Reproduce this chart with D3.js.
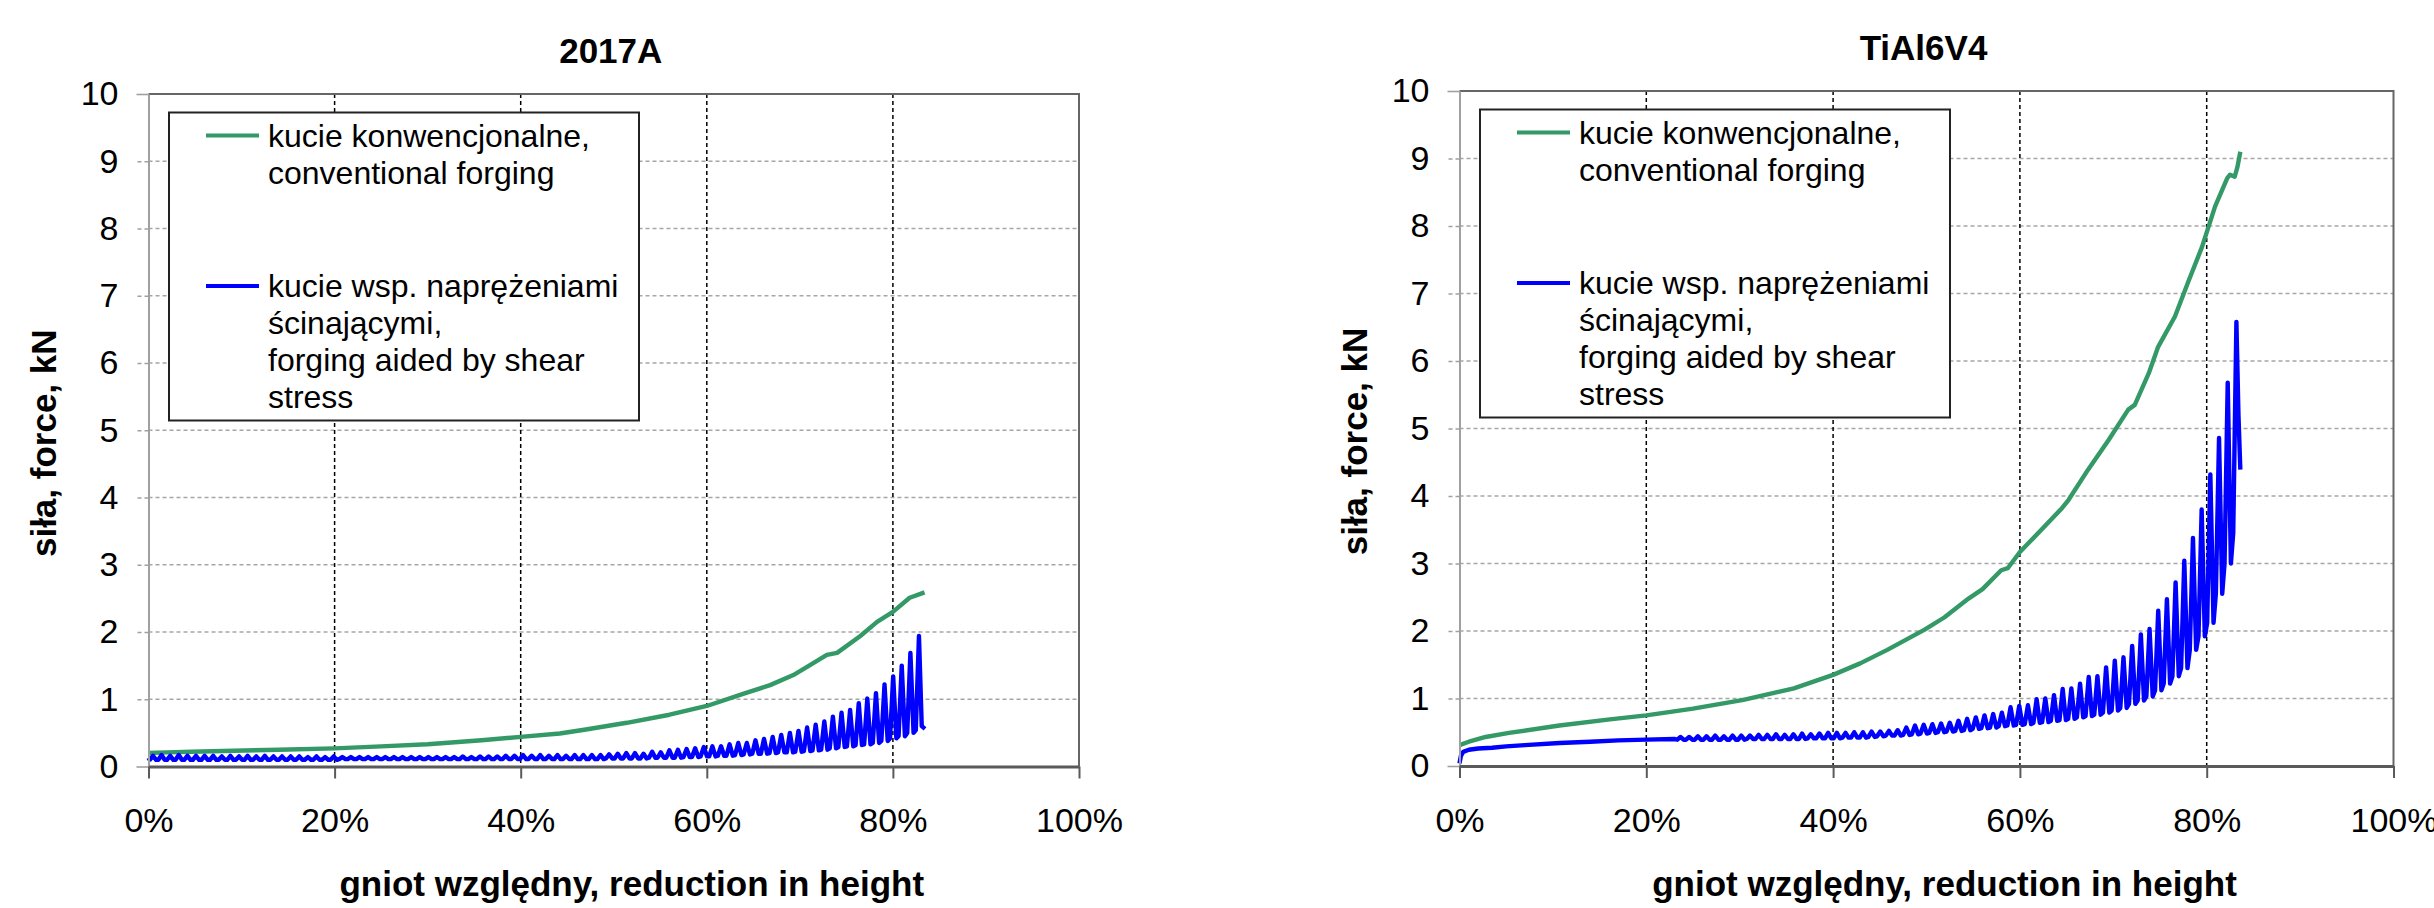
<!DOCTYPE html>
<html lang="pl">
<head>
<meta charset="UTF-8">
<title>Siła kucia</title>
<script src="https://cdn.jsdelivr.net/npm/d3@7"></script>
<style>
    body { margin: 0; background: #fff; }
    svg { display: block; font-family: "Liberation Sans", Arial, sans-serif; }
    .tick text { font-size: 34px; fill: #000; }
    .legend_text { font-size: 32px; }
    .title { font-size: 35px; font-weight: bold; }
</style>
</head>
<body>
<svg id="chart" width="2434" height="908"></svg>
<script>
    // axis ticks and texts
    const xTicks = [0, 20, 40, 60, 80, 100];
    const yTicks = [0, 1, 2, 3, 4, 5, 6, 7, 8, 9, 10];
    const titles = ["2017A", "TiAl6V4"];
    const xLabel = "gniot względny, reduction in height";
    const yLabel = "siła, force, kN";
    const legendConv = ["kucie konwencjonalne,", "conventional forging"];
    const legendShear = ["kucie wsp. naprężeniami", "ścinającymi,", "forging aided by shear", "stress"];

    // 2017A - conventional forging [reduction %, kN]
    const convA = [[0, 0.20], [2, 0.21], [4.6, 0.22], [8, 0.23], [14, 0.25], [20, 0.27], [25, 0.30],
        [30, 0.33], [35.8, 0.39], [40, 0.44], [44.2, 0.49], [47, 0.55], [51.4, 0.65], [56, 0.77],
        [60, 0.90], [63.9, 1.08], [66.8, 1.21], [69.3, 1.36], [71, 1.50], [72.9, 1.66], [74, 1.69],
        [76.5, 1.94], [78.3, 2.15], [80, 2.30], [81.8, 2.51], [83.4, 2.59]];

    // 2017A - shear aided forging, one row per load cycle [reduction %, low kN, peak kN]
    const shearStartA = [[0, 0.13]];
    const shearCyclesA = [
        [0.48, 0.10, 0.16], [1.40, 0.10, 0.17], [2.33, 0.10, 0.16], [3.25, 0.10, 0.17], [4.18, 0.10, 0.16],
        [5.10, 0.10, 0.16], [6.03, 0.10, 0.16], [6.95, 0.10, 0.16], [7.88, 0.10, 0.15], [8.80, 0.10, 0.16],
        [9.73, 0.10, 0.15], [10.65, 0.10, 0.16], [11.58, 0.10, 0.15], [12.50, 0.10, 0.16], [13.43, 0.10, 0.15],
        [14.35, 0.10, 0.15], [15.28, 0.10, 0.15], [16.20, 0.10, 0.15], [17.13, 0.10, 0.14], [18.05, 0.10, 0.15],
        [18.98, 0.10, 0.14], [19.90, 0.10, 0.15], [20.83, 0.11, 0.14], [21.75, 0.11, 0.14], [22.68, 0.11, 0.14],
        [23.60, 0.11, 0.14], [24.53, 0.11, 0.14], [25.45, 0.11, 0.14], [26.38, 0.11, 0.14], [27.30, 0.11, 0.14],
        [28.23, 0.11, 0.14], [29.15, 0.11, 0.14], [30.08, 0.11, 0.14], [31.00, 0.11, 0.14], [31.93, 0.11, 0.14],
        [32.85, 0.11, 0.14], [33.78, 0.11, 0.15], [34.70, 0.11, 0.14], [35.63, 0.11, 0.15], [36.55, 0.11, 0.15],
        [37.48, 0.11, 0.15], [38.40, 0.11, 0.16], [39.33, 0.11, 0.16], [40.25, 0.11, 0.17], [41.18, 0.11, 0.16],
        [42.10, 0.11, 0.17], [43.03, 0.11, 0.16], [43.95, 0.11, 0.17], [44.88, 0.11, 0.16], [45.80, 0.11, 0.17],
        [46.73, 0.11, 0.17], [47.65, 0.11, 0.17], [48.58, 0.11, 0.17], [49.50, 0.12, 0.18], [50.43, 0.12, 0.19],
        [51.35, 0.12, 0.20], [52.28, 0.12, 0.20], [53.20, 0.12, 0.19], [54.13, 0.13, 0.22], [55.05, 0.13, 0.21],
        [55.98, 0.13, 0.24], [56.90, 0.13, 0.25], [57.83, 0.14, 0.26], [58.75, 0.14, 0.27], [59.68, 0.15, 0.29],
        [60.60, 0.15, 0.30], [61.53, 0.16, 0.30], [62.45, 0.16, 0.33], [63.38, 0.17, 0.35], [64.30, 0.18, 0.35],
        [65.23, 0.19, 0.39], [66.15, 0.19, 0.41], [67.08, 0.20, 0.44], [68.00, 0.21, 0.47], [68.93, 0.21, 0.50],
        [69.85, 0.22, 0.53], [70.78, 0.23, 0.58], [71.70, 0.24, 0.62], [72.63, 0.25, 0.67], [73.55, 0.27, 0.74],
        [74.48, 0.29, 0.80], [75.40, 0.30, 0.84], [76.33, 0.32, 0.94], [77.25, 0.33, 1.01], [78.18, 0.35, 1.09],
        [79.10, 0.38, 1.22], [80.03, 0.42, 1.34], [80.95, 0.45, 1.50], [81.88, 0.50, 1.69], [82.80, 0.54, 1.94]];
    const shearEndA = [[83.1, 0.60], [83.45, 0.56]];

    // TiAl6V4 - conventional forging
    const convT = [[0, 0.31], [1, 0.36], [2.8, 0.43], [5.3, 0.49], [10.7, 0.60], [16.1, 0.69], [20, 0.75],
        [25, 0.85], [30.4, 0.98], [35.8, 1.15], [40, 1.35], [42.9, 1.52], [45.8, 1.72], [49.8, 2.02],
        [51.9, 2.20], [54.5, 2.48], [56, 2.62], [58, 2.90], [58.7, 2.93], [60, 3.17], [62.3, 3.50],
        [64.5, 3.82], [65.2, 3.94], [67.3, 4.39], [69.5, 4.83], [71.6, 5.28], [72.3, 5.35], [73.8, 5.82],
        [74.8, 6.21], [76.6, 6.66], [78.1, 7.20], [79.5, 7.69], [80.9, 8.29], [82.2, 8.71], [82.5, 8.76],
        [83.0, 8.73], [83.3, 8.88], [83.6, 9.10]];

    // TiAl6V4 - shear aided forging
    const shearStartT = [[0, 0.04], [0.15, 0.15], [0.4, 0.21], [1, 0.24], [2, 0.26], [3.5, 0.27], [5, 0.29],
        [7, 0.31], [10.7, 0.34], [14, 0.36], [17, 0.38], [20, 0.39], [23, 0.40]];
    const shearCyclesT = [
        [23.66, 0.39, 0.43], [24.59, 0.39, 0.43], [25.52, 0.39, 0.44], [26.45, 0.39, 0.44], [27.38, 0.39, 0.45],
        [28.31, 0.39, 0.44], [29.24, 0.39, 0.45], [30.17, 0.39, 0.45], [31.10, 0.40, 0.45], [32.03, 0.40, 0.46],
        [32.96, 0.40, 0.46], [33.89, 0.40, 0.47], [34.82, 0.40, 0.46], [35.75, 0.40, 0.47], [36.68, 0.40, 0.48],
        [37.61, 0.41, 0.47], [38.54, 0.41, 0.48], [39.47, 0.41, 0.49], [40.40, 0.41, 0.49], [41.33, 0.42, 0.49],
        [42.26, 0.42, 0.50], [43.19, 0.42, 0.50], [44.12, 0.43, 0.51], [45.05, 0.44, 0.51], [45.98, 0.45, 0.52],
        [46.91, 0.45, 0.53], [47.84, 0.46, 0.57], [48.77, 0.47, 0.60], [49.70, 0.48, 0.61], [50.63, 0.49, 0.62],
        [51.56, 0.50, 0.63], [52.49, 0.51, 0.64], [53.42, 0.52, 0.67], [54.35, 0.53, 0.70], [55.28, 0.55, 0.72],
        [56.21, 0.56, 0.75], [57.14, 0.57, 0.77], [58.07, 0.59, 0.79], [59.00, 0.60, 0.87], [59.93, 0.61, 0.89],
        [60.86, 0.62, 0.90], [61.79, 0.64, 0.99], [62.72, 0.65, 1.00], [63.65, 0.67, 1.05], [64.58, 0.68, 1.14],
        [65.51, 0.70, 1.15], [66.44, 0.72, 1.22], [67.37, 0.74, 1.32], [68.30, 0.76, 1.33], [69.23, 0.79, 1.46],
        [70.16, 0.82, 1.56], [71.09, 0.86, 1.61], [72.02, 0.92, 1.78], [72.95, 0.97, 1.95], [73.88, 1.03, 2.03],
        [74.81, 1.12, 2.30], [75.74, 1.22, 2.47], [76.67, 1.33, 2.72], [77.60, 1.45, 3.04], [78.53, 1.72, 3.38],
        [79.46, 1.92, 3.80], [80.39, 2.12, 4.32], [81.32, 2.55, 4.86], [82.25, 3.00, 5.68], [83.18, 3.45, 6.58]];
    const shearEndT = [[83.4, 5.2], [83.6, 4.39]];

    const green = "#339966";
    const blue = "#0000ff";

    const panels = [
        {title: titles[0], conv: convA, start: shearStartA, cycles: shearCyclesA, end: shearEndA,
            left: 148.5, right: 1079, top: 94, bottom: 766.5},
        {title: titles[1], conv: convT, start: shearStartT, cycles: shearCyclesT, end: shearEndT,
            left: 1459.5, right: 2393.5, top: 91, bottom: 766}
    ];

    const svg = d3.select("#chart");
    svg.append("rect").attr("width", 2434).attr("height", 908).attr("fill", "#fff");

    // each cycle drawn as a narrow spike: low -> peak -> low
    function cyclePoints(p) {
        const half = 0.34;
        let pts = p.start.slice();
        p.cycles.forEach(function (c, i) {
            pts.push([c[0] - half, c[1]]);
            pts.push([c[0], c[2]]);
            if (i < p.cycles.length - 1) pts.push([c[0] + half, c[1]]);
        });
        return pts.concat(p.end);
    }

    function drawPanel(p) {
        const x = d3.scaleLinear().domain([0, 100]).range([p.left, p.right]);
        const y = d3.scaleLinear().domain([0, 10]).range([p.bottom, p.top]);
        const g = svg.append("g");

        // horizontal grid
        g.append("g").selectAll("line")
            .data(yTicks.filter(d => d > 0 && d < 10))
            .enter().append("line")
            .attr("x1", p.left).attr("x2", p.right)
            .attr("y1", d => y(d)).attr("y2", d => y(d))
            .attr("stroke", "#a6a6a6").attr("stroke-width", 1.6)
            .attr("stroke-dasharray", "4,3");

        // vertical grid
        g.append("g").selectAll("line")
            .data(xTicks.filter(d => d > 0 && d < 100))
            .enter().append("line")
            .attr("x1", d => x(d)).attr("x2", d => x(d))
            .attr("y1", p.top).attr("y2", p.bottom)
            .attr("stroke", "#000").attr("stroke-width", 1.5)
            .attr("stroke-dasharray", "4,3");

        const line = d3.line().x(d => x(d[0])).y(d => y(d[1]));

        g.append("path").datum(p.conv)
            .attr("d", line).attr("fill", "none")
            .attr("stroke", green).attr("stroke-width", 4.4)
            .attr("stroke-linejoin", "round");

        g.append("path").datum(cyclePoints(p))
            .attr("d", line).attr("fill", "none")
            .attr("stroke", blue).attr("stroke-width", 4.4)
            .attr("stroke-linejoin", "round");

        // top and right frame
        g.append("path")
            .attr("d", `M${p.left},${p.top}H${p.right}V${p.bottom}`)
            .attr("fill", "none").attr("stroke", "#666").attr("stroke-width", 2);

        // y axis
        const ya = g.append("g")
            .attr("transform", `translate(${p.left},0)`)
            .call(d3.axisLeft(y).tickValues(yTicks).tickSize(12).tickPadding(18).tickSizeOuter(0));
        ya.select(".domain").attr("stroke", "#a0a0a0").attr("stroke-width", 2);
        ya.selectAll(".tick line").attr("stroke", "#a0a0a0").attr("stroke-width", 1.6)
            .attr("stroke-dasharray", d => (d > 0 && d < 10) ? "4,3" : null);
        ya.selectAll(".tick text").style("font-family", "inherit");

        // x axis
        const xa = g.append("g")
            .attr("transform", `translate(0,${p.bottom})`)
            .call(d3.axisBottom(x).tickValues(xTicks).tickSize(12).tickPadding(29.5)
                .tickSizeOuter(0).tickFormat(d => d + "%"));
        xa.select(".domain").attr("stroke", "#5a5a5a").attr("stroke-width", 3);
        xa.selectAll(".tick line").attr("stroke", "#5a5a5a").attr("stroke-width", 2);
        xa.selectAll(".tick text").style("font-family", "inherit");

        // legend
        const lx = p.left + 20.5, ly = p.top + 18.5;
        g.append("rect")
            .attr("x", lx).attr("y", ly).attr("width", 470).attr("height", 308)
            .attr("fill", "#fff").attr("stroke", "#222").attr("stroke-width", 2);
        [[green, 41.5], [blue, 192]].forEach(function (m) {
            g.append("line")
                .attr("x1", p.left + 57.5).attr("x2", p.left + 110.5)
                .attr("y1", p.top + m[1]).attr("y2", p.top + m[1])
                .attr("stroke", m[0]).attr("stroke-width", 4);
        });
        legendConv.forEach(function (t, i) {
            g.append("text").attr("class", "legend_text")
                .attr("x", p.left + 119.5).attr("y", p.top + 52.5 + i * 37)
                .text(t);
        });
        legendShear.forEach(function (t, i) {
            g.append("text").attr("class", "legend_text")
                .attr("x", p.left + 119.5).attr("y", p.top + 202.5 + i * 37.2)
                .text(t);
        });

        // titles
        g.append("text").attr("class", "title")
            .attr("x", (p.left + p.right) / 2 - 3).attr("y", p.top - 31)
            .attr("text-anchor", "middle").text(p.title);
        g.append("text").attr("class", "title")
            .attr("x", (p.left + p.right) / 2 + 18).attr("y", 896)
            .attr("text-anchor", "middle").text(xLabel);
        g.append("text").attr("class", "title")
            .attr("transform", `translate(${p.left - 92.5},${(p.top + p.bottom) / 2 + 13}) rotate(-90)`)
            .attr("text-anchor", "middle").text(yLabel);
    }

    panels.forEach(drawPanel);
</script>
</body>
</html>
